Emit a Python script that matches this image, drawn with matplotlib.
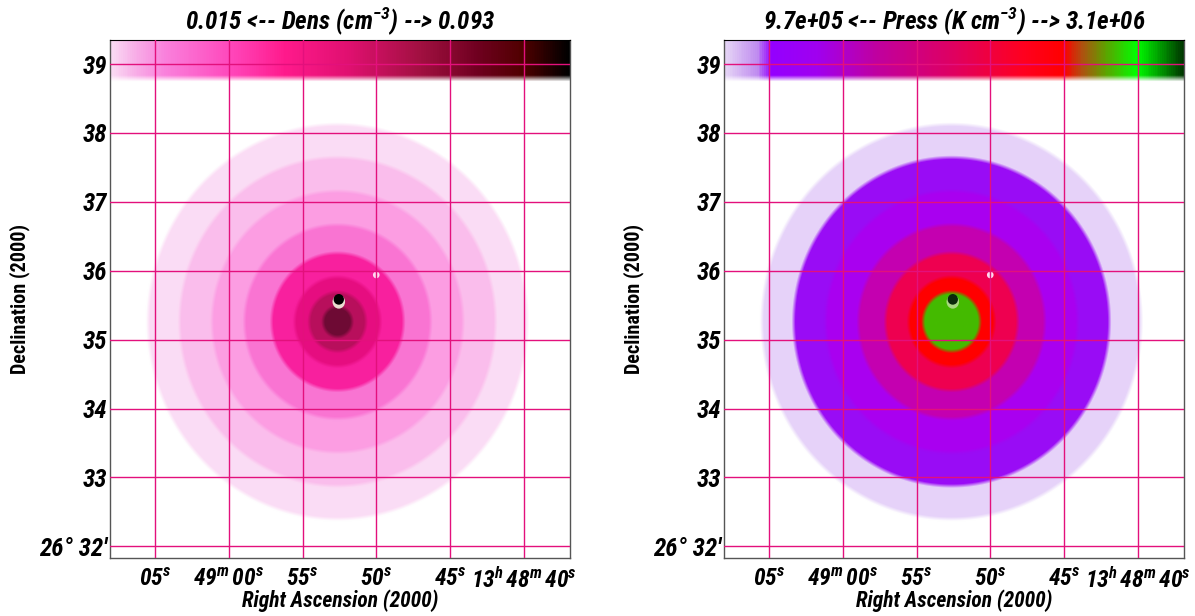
import numpy as np
import matplotlib
matplotlib.use("Agg")
from matplotlib import pyplot as plt
from matplotlib.colors import LinearSegmentedColormap, to_rgb
from matplotlib.patches import Ellipse

plt.rcParams['font.family'] = ['Roboto Condensed', 'DejaVu Sans']
plt.rcParams['mathtext.fontset'] = 'custom'
plt.rcParams['mathtext.it'] = 'Roboto Condensed:italic:bold'
plt.rcParams['mathtext.rm'] = 'Roboto Condensed:italic:bold'
plt.rcParams['mathtext.default'] = 'it'

# RA as seconds past 13h48m
ra_ticks = [65, 60, 55, 50, 45, 40]
ra_labels = [r"05$^{s}$", r"49$^{m}\,$00$^{s}$", r"55$^{s}$", r"50$^{s}$", r"45$^{s}$", r"13$^{h}\,$48$^{m}\,$40$^{s}$"]
dec_ticks = [32, 33, 34, 35, 36, 37, 38, 39]
dec_labels = ["26° 32′", "33", "34", "35", "36", "37", "38", "39"]

ra_center = 52.64
dec_center = 35.26
ra_scale = 0.2229  # dec units per RA second, keeps the rings round on the sky
ring_radius = [2.87, 2.39, 1.90, 1.41, 1.00, 0.65, 0.43, 0.22]

dens_colors = ["#fbdcf5", "#fbbdec", "#fc9de3", "#fa74d3", "#f8209e", "#e60d80", "#b80f5c", "#6e0a34"]
press_colors = ["#e6d3f9", "#9a0cf5", "#aa00f0", "#c400b0", "#ee0050", "#ff0000", "#44bb00", "#44bb00"]

dens_pos = [0, 0.05, 0.12, 0.26, 0.38, 0.52, 0.68, 0.80, 0.90, 1]
dens_stops = ["#fadcf5", "#f8b0e8", "#fa80dc", "#ff48bc", "#ff1a8c", "#e01070", "#a01040", "#700020", "#500000", "#000000"]
press_pos = [0, 0.07, 0.10, 0.20, 0.33, 0.50, 0.65, 0.74, 0.78, 0.83, 0.90, 1]
press_stops = ["#e6d6f6", "#c08cf0", "#9400ff", "#a000f0", "#c000a0", "#e00060", "#ff0020", "#ff0000", "#b05010", "#60a000", "#00ff00", "#003800"]

xlim = (68.05, 36.9)
ylim = (31.83, 39.35)
strip_bottom = 38.80

gx, gy = np.meshgrid(np.linspace(xlim[0], xlim[1], 460), np.linspace(ylim[0], ylim[1], 518))
rr = np.hypot((gx - ra_center) * ra_scale, gy - dec_center)


def soft(v, w):
    return np.clip(v / w + 0.5, 0, 1)[..., None]


def panel(pos, title, ring_cols, strip_pos, strip_cols, dot_col, halo_col):
    ax = fig.add_axes(pos)
    img = np.ones(gx.shape + (3,))
    for radius, col in zip(ring_radius, ring_cols):
        a = soft(radius - rr, 0.06)
        img = img * (1 - a) + np.array(to_rgb(col)) * a
    cm = LinearSegmentedColormap.from_list("strip", list(zip(strip_pos, strip_cols)))
    strip = cm((xlim[0] - gx) / (xlim[0] - xlim[1]))[..., :3]
    a = soft(gy - strip_bottom, 0.09)
    img = img * (1 - a) + strip * a
    ax.imshow(img, extent=(xlim[0], xlim[1], ylim[0], ylim[1]), origin="lower", aspect="auto", interpolation="bilinear")
    ax.add_patch(Ellipse((52.54, 35.55), 0.85, 0.2, color=halo_col, lw=0))
    ax.add_patch(Ellipse((52.54, 35.585), 0.7, 0.155, color=dot_col, lw=0))
    ax.add_patch(Ellipse((50.0, 35.94), 0.45, 0.1, color="#ffd8f0", lw=0))
    ax.set_xlim(xlim)
    ax.set_ylim(ylim)
    ax.set_xticks(ra_ticks, ra_labels, fontsize=17, style="italic", weight="bold")
    ax.set_yticks(dec_ticks, dec_labels, fontsize=18, style="italic", weight="bold")
    ax.tick_params(axis="x", length=0, pad=7)
    ax.tick_params(axis="y", length=0, pad=2)
    ax.grid(True, color="#e3107c", lw=1)
    ax.set_axisbelow(False)
    ax.set_xlabel("Right Ascension (2000)", fontsize=15.5, style="italic", weight="bold", labelpad=-3)
    ax.set_ylabel("Declination (2000)", fontsize=14.5, weight="bold", va="center")
    ax.yaxis.set_label_coords(-0.196, 0.5)
    ax.set_title(title, fontsize=18, style="italic", weight="bold", pad=8)
    for s in ["left", "right", "bottom"]:
        ax.spines[s].set_color("#555555")
        ax.spines[s].set_linewidth(1)
    ax.spines["top"].set_color("#000000")
    return ax


W, H = 1195, 616
fig = plt.figure(figsize=(W / 100, H / 100), dpi=100)
panel([110 / W, 1 - 558 / H, 459.5 / W, 518 / H], r"0.015 <-- Dens (cm$^{-3}$) --> 0.093", dens_colors, dens_pos, dens_stops, "#000000", "#eadcd0")
panel([724 / W, 1 - 558 / H, 459.5 / W, 518 / H], r"9.7e+05 <-- Press (K cm$^{-3}$) --> 3.1e+06", press_colors, press_pos, press_stops, "#0c2a0c", "#a8d880")
fig.savefig("out.png", dpi=100)
